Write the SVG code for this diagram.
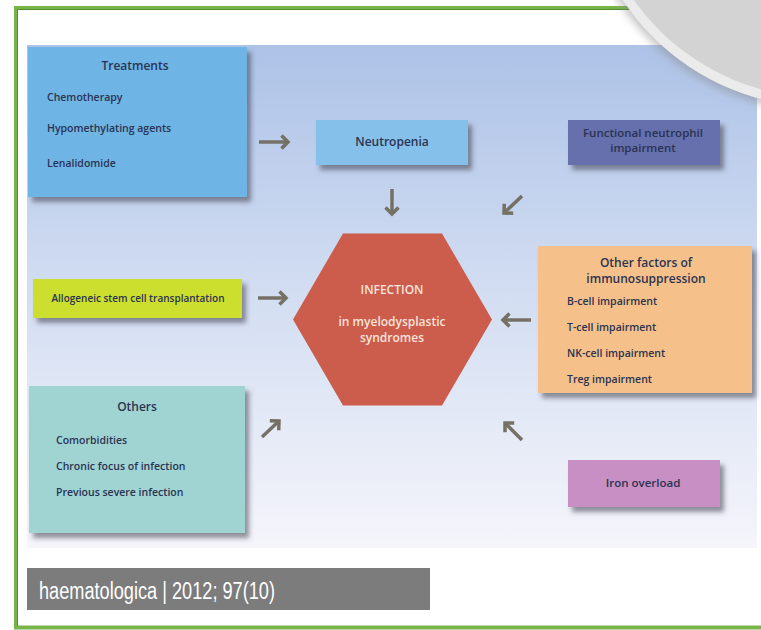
<svg xmlns="http://www.w3.org/2000/svg" width="761" height="630" viewBox="0 0 761 630">
<style>
.t{font-family:"Open Sans","Liberation Sans",sans-serif;font-weight:600;fill:#2b3352;font-size:10.5px}
.h{font-size:12px}
.c{text-anchor:middle}
.w{fill:#f7e4dc;font-size:12px}
.box{filter:url(#sh)}
.arr{fill:none;stroke:#757066;stroke-width:3.5;marker-end:url(#ah)}
</style>
<defs>
<linearGradient id="bg" x1="0" y1="0" x2="0" y2="1">
<stop offset="0" stop-color="#adc2e7"/>
<stop offset="0.5" stop-color="#d3def2"/>
<stop offset="1" stop-color="#f5f5fb"/>
</linearGradient>
<filter id="sh" x="-10%" y="-10%" width="125%" height="135%">
<feDropShadow dx="4" dy="5" stdDeviation="2.5" flood-color="#3a3a4a" flood-opacity="0.55"/>
</filter>
<filter id="cs" x="-20%" y="-20%" width="140%" height="140%">
<feDropShadow dx="-2" dy="4" stdDeviation="4" flood-color="#888" flood-opacity="0.5"/>
</filter>
<marker id="ah" markerUnits="userSpaceOnUse" markerWidth="14" markerHeight="16" refX="8" refY="8" orient="auto">
<path d="M1.5,1.5 L8,8 L1.5,14.5" fill="none" stroke="#757066" stroke-width="3.5" stroke-linejoin="miter"/>
</marker>
</defs>
<rect width="761" height="630" fill="#ffffff"/>
<g id="frame">
<path d="M761,8 H16 V627.5 H761" fill="none" stroke="#78b548" stroke-width="4"/>
<path d="M761,9.5 H17.5 V626" fill="none" stroke="#4f8d2c" stroke-width="1"/>
</g>
<rect id="panel" x="27" y="45" width="730" height="503" fill="url(#bg)"/>
<g id="corner">
<circle cx="822" cy="-132" r="239" fill="#ebebeb" filter="url(#cs)"/>
<circle cx="824" cy="-136" r="234" fill="#d3d3d3"/>
</g>
<g id="connectors">
<path class="arr" d="M259,142 H288"/>
<path class="arr" d="M392,189 V214"/>
<path class="arr" d="M522,196 L504,213"/>
<path class="arr" d="M258,298 H286"/>
<path class="arr" d="M531,320 H503"/>
<path class="arr" d="M262,437 L279,421"/>
<path class="arr" d="M522,440 L505,423"/>
</g>
<g id="treatments">
<rect class="box" x="28" y="47" width="219" height="150" fill="#6eb4e4"/>
<text class="t h c" x="135" y="70">Treatments</text>
<text class="t" x="47" y="101">Chemotherapy</text>
<text class="t" x="47" y="132">Hypomethylating agents</text>
<text class="t" x="47" y="167">Lenalidomide</text>
</g>
<g id="neutropenia">
<rect class="box" x="316" y="120" width="152" height="45" fill="#85c0ea"/>
<text class="t h c" x="392" y="146">Neutropenia</text>
</g>
<g id="functional">
<rect class="box" x="568" y="120" width="152" height="45" fill="#6570ad"/>
<text class="t h c" x="643" y="137" style="font-size:11.5px">Functional neutrophil</text>
<text class="t h c" x="643" y="152" style="font-size:11.5px">impairment</text>
</g>
<g id="allogeneic">
<rect class="box" x="33" y="279" width="209" height="39" fill="#cddf2f"/>
<text class="t c" x="138" y="302" style="font-size:10px">Allogeneic stem cell transplantation</text>
</g>
<g id="infection">
<polygon points="293,319.5 343,233.5 442,233.5 492,319.5 442,405.5 343,405.5" fill="#cc5c4b"/>
<text class="t w c" x="392" y="294">INFECTION</text>
<text class="t w c" x="392" y="326">in myelodysplastic</text>
<text class="t w c" x="392" y="342">syndromes</text>
</g>
<g id="other-factors">
<rect class="box" x="538" y="246" width="214" height="147" fill="#f5c089"/>
<text class="t h c" x="646" y="267">Other factors of</text>
<text class="t h c" x="646" y="283">immunosuppression</text>
<text class="t" x="567" y="305">B-cell impairment</text>
<text class="t" x="567" y="331">T-cell impairment</text>
<text class="t" x="567" y="357">NK-cell impairment</text>
<text class="t" x="567" y="383">Treg impairment</text>
</g>
<g id="others">
<rect class="box" x="29" y="386" width="216" height="147" fill="#9fd4d3"/>
<text class="t h c" x="137" y="411">Others</text>
<text class="t" x="56" y="444">Comorbidities</text>
<text class="t" x="56" y="470">Chronic focus of infection</text>
<text class="t" x="56" y="496">Previous severe infection</text>
</g>
<g id="iron">
<rect class="box" x="568" y="460" width="152" height="47" fill="#c78fc4"/>
<text class="t h c" x="643" y="487" style="font-size:11.5px">Iron overload</text>
</g>
<g id="citation">
<rect x="27" y="568" width="403" height="42" fill="#7c7c7c"/>
<text x="39" y="599" textLength="236" lengthAdjust="spacingAndGlyphs" style="font-family:'Liberation Sans',Arial,sans-serif;font-size:23px;fill:#ffffff">haematologica | 2012; 97(10)</text>
</g>
</svg>
